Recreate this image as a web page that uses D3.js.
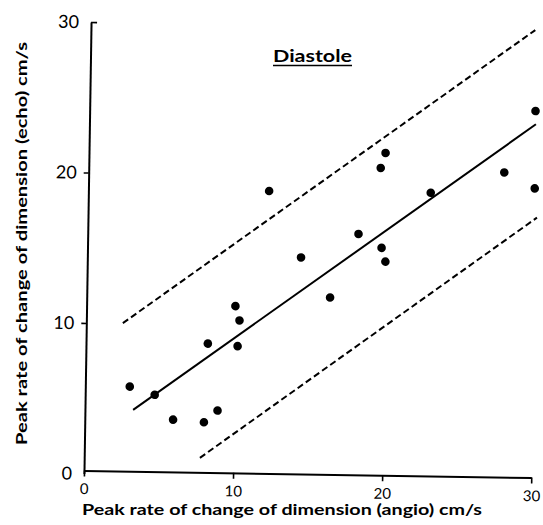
<!DOCTYPE html>
<html>
<head>
<meta charset="utf-8">
<script src="https://cdn.jsdelivr.net/npm/d3@7"></script>
<style>
  html, body { margin: 0; padding: 0; background: #fff; }
  svg { display: block; }
  text { font-family: Lato, "DejaVu Sans", sans-serif; fill: #000; }
</style>
</head>
<body>
<svg id="chart" width="543" height="525"></svg>
<script>
// ---- data ----
const angio = [2.98, 4.66, 5.92, 7.99, 8.89, 8.17, 10.17, 10.27, 9.98, 12.12, 14.33,
               16.32, 18.16, 19.58, 19.89, 19.72, 19.99, 22.96, 27.87, 29.93, 29.90];
const echo  = [5.82, 5.30, 3.67, 3.53, 4.32, 8.76, 8.62, 10.33, 11.28, 18.96, 14.58,
               11.95, 16.20, 20.61, 21.61, 15.30, 14.39, 19.01, 20.44, 19.41, 24.55];
const regressionX = [3.23, 29.94];
const regressionY = [4.28, 23.67];
const upperX = [2.45, 29.80];
const upperY = [10.03, 29.93];
const lowerX = [7.76, 30.11];
const lowerY = [1.16, 17.47];
const xTicks = [0, 10, 20, 30];
const yTicks = [0, 10, 20, 30];
const xTitle = "Peak rate of change of dimension (angio)  cm/s";
const yTitle = "Peak rate of change of dimension  (echo) cm/s";
const panelTitle = "Diastole";

// ---- drawing ----
const svg = d3.select("#chart");
const x = d3.scaleLinear().domain([0, 30]).range([84, 531.3]);
const y = d3.scaleLinear().domain([0, 30]).range([473.5, 22]);

const g = svg.append("g").attr("transform", "rotate(0.9,85,471)");

// x axis
const xAxisG = g.append("g")
  .attr("transform", `translate(0,${y(0) - 3})`)
  .call(d3.axisBottom(x).tickValues(xTicks).tickSize(6).tickSizeOuter(0).tickFormat(d3.format("d")));
xAxisG.select(".domain").attr("stroke", "#000").attr("stroke-width", 2);
xAxisG.selectAll(".tick line").attr("stroke", "#000").attr("stroke-width", 1.6);
xAxisG.selectAll(".tick text")
  .attr("y", 13).attr("dy", "0.71em")
  .style("font-size", "15px").style("font-family", "Lato, sans-serif").attr("fill", "#000");

// y axis
const yAxisG = g.append("g")
  .attr("transform", `translate(${x(0)},0)`)
  .call(d3.axisLeft(y).tickValues(yTicks).tickSize(5).tickPadding(7).tickSizeOuter(0).tickFormat(d3.format("d")));
yAxisG.select(".domain").attr("stroke", "#000").attr("stroke-width", 2);
yAxisG.selectAll(".tick line").attr("stroke", "#000").attr("stroke-width", 1.6)
  .attr("x2", d => d === 30 ? 6 : (d === 0 ? 0 : -5));
yAxisG.selectAll(".tick text")
  .style("font-size", "18px").style("font-family", "Lato, sans-serif").attr("fill", "#000");

// confidence (dashed) lines
const line = d3.line().x(d => x(d[0])).y(d => y(d[1]));
g.append("path")
  .datum(upperX.map((v, i) => [v, upperY[i]]))
  .attr("d", line).attr("fill", "none").attr("stroke", "#000")
  .attr("stroke-width", 2).attr("stroke-dasharray", "6.5,3.5");
g.append("path")
  .datum(lowerX.map((v, i) => [v, lowerY[i]]))
  .attr("d", line).attr("fill", "none").attr("stroke", "#000")
  .attr("stroke-width", 2).attr("stroke-dasharray", "6.5,3.5");

// regression line
g.append("path")
  .datum(regressionX.map((v, i) => [v, regressionY[i]]))
  .attr("d", line).attr("fill", "none").attr("stroke", "#000").attr("stroke-width", 2);

// points
g.selectAll("circle.pt")
  .data(angio.map((v, i) => [v, echo[i]]))
  .join("circle").attr("class", "pt")
  .attr("cx", d => x(d[0])).attr("cy", d => y(d[1]))
  .attr("r", 4.3).attr("fill", "#000");

// titles
svg.append("text")
  .attr("x", 82).attr("y", 515)
  .attr("textLength", 400).attr("lengthAdjust", "spacingAndGlyphs")
  .style("font-size", "15px").style("font-weight", "bold")
  .text(xTitle);

svg.append("text")
  .attr("transform", "translate(27,243.5) rotate(-90)")
  .attr("text-anchor", "middle")
  .attr("textLength", 403).attr("lengthAdjust", "spacingAndGlyphs")
  .style("font-size", "15px").style("font-weight", "bold")
  .text(yTitle);

svg.append("text")
  .attr("x", 273).attr("y", 62)
  .attr("textLength", 79).attr("lengthAdjust", "spacingAndGlyphs")
  .style("font-size", "17px").style("font-weight", "bold")
  .text(panelTitle);
svg.append("line")
  .attr("x1", 273).attr("x2", 352).attr("y1", 65.5).attr("y2", 65.5)
  .attr("stroke", "#000").attr("stroke-width", 1.6);
</script>
</body>
</html>
